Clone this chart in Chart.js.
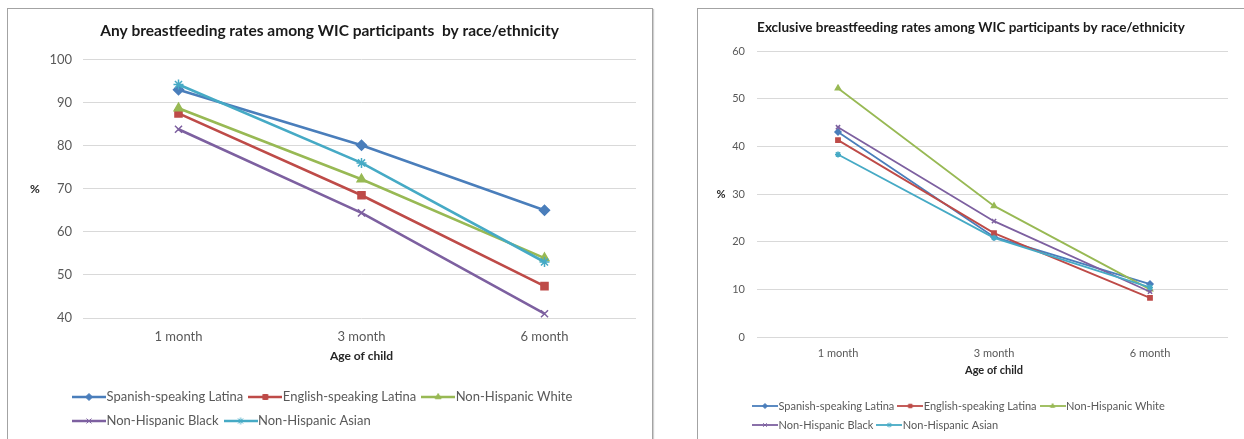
<!DOCTYPE html>
<html>
<head>
<meta charset="utf-8">
<script src="https://cdn.jsdelivr.net/npm/chart.js@4.4.1/dist/chart.umd.min.js"></script>
<style>
    html, body {
        margin: 0;
        padding: 0;
        width: 1244px;
        height: 439px;
        overflow: hidden;
        background: #ffffff;
    }
    .panel {
        position: absolute;
        top: 8px;
        height: 450px;
        border: 1px solid #a3a3a3;
        box-shadow: 1px 1px 1px #d0d0d0;
        background: #ffffff;
    }
    .panel canvas {
        position: absolute;
        left: 0;
        top: 0;
    }
</style>
</head>
<body>
<div class="panel" style="left: 7px; width: 644px;">
    <canvas id="any_chart" width="644" height="440" style="width: 644px; height: 440px;"></canvas>
</div>
<div class="panel" style="left: 697px; width: 560px;">
    <canvas id="exclusive_chart" width="546" height="440" style="width: 546px; height: 440px;"></canvas>
</div>
<script>
const months = ['1 month', '3 month', '6 month'];
const groups = ['Spanish-speaking Latina', 'English-speaking Latina', 'Non-Hispanic White',
    'Non-Hispanic Black', 'Non-Hispanic Asian'];

// any breastfeeding, %
const any_spanish = [93.0, 80.1, 65.0];
const any_english = [87.5, 68.5, 47.4];
const any_white = [88.7, 72.2, 53.9];
const any_black = [83.8, 64.4, 41.0];
const any_asian = [94.2, 76.0, 53.0];

// exclusive breastfeeding, %
const excl_spanish = [43.0, 21.0, 11.1];
const excl_english = [41.3, 21.8, 8.2];
const excl_white = [52.2, 27.5, 10.0];
const excl_black = [44.0, 24.3, 9.5];
const excl_asian = [38.3, 20.8, 10.4];

const any_ticks = {min: 40, max: 100, step: 10};
const excl_ticks = {min: 0, max: 60, step: 10};

const colors = ['#4a7ebb', '#be4b48', '#98b954', '#7d60a0', '#46aac5'];
const markers = ['rectRot', 'rect', 'triangle', 'crossRot', 'star'];

Chart.defaults.font.family = 'Lato, "Open Sans", sans-serif';
Chart.defaults.color = '#595959';

function make_legend_icon(color, style, width, height, line_width, radius) {
    let icon = document.createElement('canvas');
    icon.width = width;
    icon.height = height;
    let ctx = icon.getContext('2d');
    ctx.strokeStyle = color;
    ctx.fillStyle = color;
    ctx.lineWidth = line_width;
    ctx.beginPath();
    ctx.moveTo(0, height / 2);
    ctx.lineTo(width, height / 2);
    ctx.stroke();
    ctx.lineWidth = 1;
    Chart.helpers.drawPoint(ctx, {pointStyle: style, radius: radius, borderWidth: 1, rotation: 0},
        width / 2, height / 2);
    return icon;
}

function build_datasets(series, line_width, radius) {
    return series.map((values, i) => ({
        label: groups[i],
        data: values,
        borderColor: colors[i],
        backgroundColor: colors[i],
        borderWidth: line_width,
        pointStyle: markers[i],
        pointRadius: radius,
        pointBorderWidth: 1.5,
        pointBackgroundColor: colors[i],
        pointBorderColor: colors[i],
        // later series sit on top, like the original spreadsheet
        order: series.length - i,
    }));
}

// "%" label written level with the plot instead of rotated
const percent_label = {
    id: 'percent_label',
    afterDraw(chart, args, opts) {
        let ctx = chart.ctx;
        let area = chart.chartArea;
        ctx.save();
        ctx.font = 'bold ' + opts.size + 'px Lato, sans-serif';
        ctx.fillStyle = '#262626';
        ctx.textAlign = 'center';
        ctx.textBaseline = 'middle';
        ctx.fillText('%', area.left - opts.offset, (area.top + area.bottom) / 2);
        ctx.restore();
    }
};

// legend block starts under the plot, not at the canvas edge
const legend_inset = {
    id: 'legend_inset',
    afterLayout(chart, args, opts) {
        if (chart.legend) {
            chart.legend.left = opts.left;
        }
    }
};

function make_chart(canvas_id, cfg) {
    let icons = colors.map((c, i) => make_legend_icon(c, markers[i], cfg.icon_w, cfg.icon_h,
        cfg.line_width, cfg.icon_radius));
    return new Chart(document.getElementById(canvas_id), {
        type: 'line',
        data: {
            labels: months,
            datasets: build_datasets(cfg.series, cfg.line_width, cfg.radius),
        },
        plugins: [percent_label, legend_inset],
        options: {
            responsive: false,
            animation: false,
            devicePixelRatio: 1,
            events: [],
            layout: {padding: {left: cfg.pad_left, right: cfg.pad_right, top: 0, bottom: cfg.pad_bottom}},
            scales: {
                x: {
                    offset: true,
                    grid: {display: false, drawTicks: false},
                    border: {display: false},
                    ticks: {font: {size: cfg.tick_size}, color: '#595959', padding: cfg.x_tick_pad},
                    title: {
                        display: true,
                        text: 'Age of child',
                        color: '#262626',
                        font: {size: cfg.axis_title_size, weight: 'bold'},
                        padding: {top: 0, bottom: cfg.axis_title_pad},
                    },
                    afterFit: (scale) => { scale.height = cfg.x_height; },
                },
                y: {
                    min: cfg.ticks.min,
                    max: cfg.ticks.max,
                    ticks: {stepSize: cfg.ticks.step, font: {size: cfg.tick_size}, color: '#595959',
                        padding: cfg.y_tick_pad},
                    grid: {color: '#d9d9d9', lineWidth: 1, drawTicks: true, tickLength: cfg.tick_len,
                        tickColor: '#d9d9d9'},
                    border: {display: false},
                    afterFit: (scale) => { scale.width = cfg.y_width; },
                },
            },
            plugins: {
                title: {
                    display: true,
                    text: cfg.title,
                    color: '#1a1a1a',
                    font: {size: cfg.title_size, weight: 'bold'},
                    padding: {top: cfg.title_top, bottom: cfg.title_bottom},
                },
                legend: {
                    position: 'bottom',
                    align: 'start',
                    labels: {
                        usePointStyle: true,
                        pointStyleWidth: cfg.box_w,
                        padding: cfg.legend_pad,
                        color: '#595959',
                        font: {size: cfg.legend_size},
                        sort: (a, b) => a.datasetIndex - b.datasetIndex,
                        generateLabels: (chart) => {
                            let items = Chart.defaults.plugins.legend.labels.generateLabels(chart);
                            items.forEach(item => { item.pointStyle = icons[item.datasetIndex]; });
                            return items;
                        },
                    },
                },
                tooltip: {enabled: false},
                percent_label: {size: cfg.percent_size, offset: cfg.percent_offset},
                legend_inset: {left: cfg.legend_left},
            },
        },
    });
}

make_chart('any_chart', {
    title: 'Any breastfeeding rates among WIC participants  by race/ethnicity',
    series: [any_spanish, any_english, any_white, any_black, any_asian],
    ticks: any_ticks,
    line_width: 2.6, radius: 5,
    icon_w: 34, icon_h: 12, icon_radius: 3.5, box_w: 22,
    pad_left: 15, pad_right: 16, pad_bottom: 11.5,
    y_width: 64, y_tick_pad: 11, tick_len: 4,
    x_height: 61.5, x_tick_pad: 11.2,
    tick_size: 13, axis_title_size: 12, axis_title_pad: 16.3,
    title_size: 15.5, title_top: 12.7, title_bottom: 19.2,
    legend_size: 13, legend_pad: 11, legend_left: 59,
    percent_size: 12, percent_offset: 52,
});

make_chart('exclusive_chart', {
    title: 'Exclusive breastfeeding rates among WIC participants by race/ethnicity',
    series: [excl_spanish, excl_english, excl_white, excl_black, excl_asian],
    ticks: excl_ticks,
    line_width: 1.8, radius: 3,
    icon_w: 26, icon_h: 10, icon_radius: 2.5, box_w: 16,
    pad_left: 16, pad_right: 16, pad_bottom: 8.5,
    y_width: 46, y_tick_pad: 12, tick_len: 3,
    x_height: 55.5, x_tick_pad: 9.4,
    tick_size: 11, axis_title_size: 11, axis_title_pad: 15.9,
    title_size: 13.5, title_top: 10.9, title_bottom: 14.9,
    legend_size: 11, legend_pad: 8, legend_left: 51,
    percent_size: 11, percent_offset: 39,
});
</script>
</body>
</html>
